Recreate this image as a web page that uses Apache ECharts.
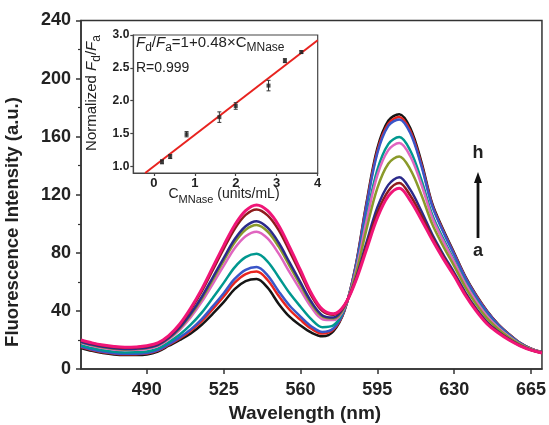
<!DOCTYPE html>
<html>
<head>
<meta charset="utf-8">
<script src="https://cdn.jsdelivr.net/npm/echarts@6/dist/echarts.min.js"></script>
<style>
html,body{margin:0;padding:0;background:#fff;}
#chart{width:549px;height:425px;}
</style>
</head>
<body>
<div id="chart"></div>
<script>
// ---- data ----
var wavelengths = [460,465,470,475,480,485,490,495,500,505,510,515,520,525,530,535,540,545,550,555,560,565,570,575,580,585,590,595,600,605,610,615,620,625,630,635,640,645,650,655,660,665,670];
var curveBlack = [14.5,12.5,11,10,9.6,9.6,10,12,16,20,24.5,30.5,38,46,55,60.5,62,56,45,36,30,25,22.5,26,40,70,114,152,171,175.5,166,143,114,96,80,64,51,40,31,24,18,14,11.5];
var curveRed = [15.1,13.1,11.6,10.6,10.1,10.2,10.6,12.6,16.7,21.1,26.3,33,41.2,49.9,59.4,65.4,67.1,61.3,50.4,40.8,33.8,27.7,24.4,27.2,40.3,69.6,112.7,150.1,168.9,173.5,164,141.4,113,95.2,79.4,63.5,50.6,39.6,30.8,23.8,17.9,14,11.5];
var curveBlue = [15.4,13.4,11.9,10.9,10.5,10.5,11,13,17.1,21.8,27.3,34.4,43.1,52.2,62,68.3,70.2,64.5,53.6,43.7,36.1,29.3,25.5,27.9,40.5,69.3,111.8,148.6,167.4,171.9,162.5,140.2,112.3,94.6,78.9,63.1,50.2,39.4,30.6,23.7,17.9,13.9,11.5];
var curveTeal = [16.4,14.4,12.9,11.9,11.4,11.5,12,14,18.4,23.7,30.5,38.8,48.9,59.3,70,77,79.3,74,63.4,52.3,42.9,34.2,28.8,30.1,41.3,66.9,104.1,137.1,154.9,159.7,150.5,130.6,106.3,89.8,75,60,47.6,37.2,29.1,22.8,17.4,13.7,11.3];
var curveOrchid = [18,16,14.5,13.5,13.1,13.2,13.8,15.8,20.5,27,35.7,46.2,58.5,71,83.2,91.5,94.6,89.9,79.6,66.7,54.3,42.3,34.3,33.7,42.1,66.1,101.5,133.3,150.7,155.6,146.5,127.4,104.3,88.2,73.8,58.9,46.7,36.5,28.7,22.4,17.2,13.6,11.3];
var curveOlive = [18.5,16.5,15,14,13.5,13.7,14.4,16.4,21.1,28,37.3,48.4,61.4,74.5,87.1,95.9,99.2,94.7,84.4,71,57.7,44.7,36,34.8,42.6,64.3,95.8,124.6,141.4,146.4,137.5,120.2,99.8,84.6,70.9,56.6,44.7,34.9,27.6,21.7,16.9,13.4,11.2];
var curveNavy = [18.8,16.8,15.3,14.3,13.8,14,14.7,16.7,21.5,28.6,38.2,49.6,63,76.4,89.3,98.3,101.8,97.3,87.1,73.4,59.6,46.1,36.9,35.4,43.3,61.5,86.8,111.2,126.8,132.1,123.5,109,92.8,79,66.4,53,41.6,32.3,25.9,20.6,16.3,13.2,11.1];
var curveDarkRed = [19.7,17.7,16.2,15.2,14.7,14.9,15.6,17.6,22.6,30.3,41,53.5,68.1,82.7,96.4,106.1,109.9,105.8,95.8,81.1,65.7,50.4,39.9,37.3,43.7,60.7,84.2,107.4,122.6,128.1,119.5,105.8,90.8,77.4,65.1,51.9,40.8,31.6,25.4,20.3,16.1,13.1,11];
var curvePink = [20,18,16.5,15.5,15,15.2,16,18,23,31,42,55,70,85,99,109,113,109,99,84,68,52,41,38,44,60,82,104,119,124.5,116,103,89,76,64,51,40,31,25,20,16,13,11];

var xTicks = [490,525,560,595,630,665];

var insetConc = [0.2,0.4,0.8,1.6,2.0,2.8,3.2,3.6];
var insetRatio = [1.07,1.15,1.49,1.75,1.92,2.23,2.61,2.74];
var insetErr = [0.03,0.03,0.04,0.08,0.05,0.08,0.03,0.02];
var fitConc = [-0.21,4];
var fitRatio = [0.9,2.92];
var insetXTicks = [0,1,2,3,4];
var insetYTicks = [1.0,1.5,2.0,2.5,3.0];

// ---- build ----
var curves = [
  {d: curveBlack, c: '#151515'},
  {d: curveRed, c: '#e8251f'},
  {d: curveBlue, c: '#3a55c8'},
  {d: curveTeal, c: '#00988f'},
  {d: curveOrchid, c: '#e065c0'},
  {d: curveOlive, c: '#8a9a2a'},
  {d: curveNavy, c: '#2b2a8a'},
  {d: curveDarkRed, c: '#8e1c1c'},
  {d: curvePink, c: '#f01577'}
];
var FONT = 'Liberation Sans, Arial, Helvetica, sans-serif';

var series = curves.map(function (cv, i) {
  return {
    type: 'line', xAxisIndex: 0, yAxisIndex: 0,
    data: wavelengths.map(function (w, k) { return [w, cv.d[k]]; }),
    smooth: 0.35, showSymbol: false, symbol: 'none',
    lineStyle: {color: cv.c, width: i === 8 ? 3 : 2.5},
    z: 2 + i, animation: false
  };
});

series.push({
  type: 'line', xAxisIndex: 1, yAxisIndex: 1,
  data: fitConc.map(function (x, k) { return [x, fitRatio[k]]; }),
  showSymbol: false, symbol: 'none',
  lineStyle: {color: '#e8231f', width: 2}, z: 20, animation: false
});
series.push({
  type: 'custom', xAxisIndex: 1, yAxisIndex: 1,
  data: insetConc.map(function (x, k) { return [x, insetRatio[k], insetErr[k]]; }),
  renderItem: function (params, api) {
    var x = api.value(0), y = api.value(1), e = api.value(2);
    var t = api.coord([x, y + e]), b = api.coord([x, y - e]);
    var st = {stroke: '#333', lineWidth: 1};
    return {type: 'group', children: [
      {type: 'line', shape: {x1: t[0], y1: t[1], x2: b[0], y2: b[1]}, style: st},
      {type: 'line', shape: {x1: t[0] - 2, y1: t[1], x2: t[0] + 2, y2: t[1]}, style: st},
      {type: 'line', shape: {x1: b[0] - 2, y1: b[1], x2: b[0] + 2, y2: b[1]}, style: st}
    ]};
  }, z: 21, animation: false
});
series.push({
  type: 'scatter', xAxisIndex: 1, yAxisIndex: 1,
  data: insetConc.map(function (x, k) { return [x, insetRatio[k]]; }),
  symbol: 'rect', symbolSize: 4, itemStyle: {color: '#222'}, z: 22, animation: false
});

var chart = echarts.init(document.getElementById('chart'), null, {renderer: 'canvas'});
chart.setOption({
  animation: false,
  backgroundColor: '#fff',
  grid: [
    {left: 81, right: 5.7, top: 20.5, bottom: 56, show: true, borderColor: '#333', borderWidth: 1.5, containLabel: false},
    {left: 133.3, right: 231.3, top: 35, bottom: 252, show: true, borderColor: '#444', borderWidth: 1.2, backgroundColor: '#fff', containLabel: false}
  ],
  xAxis: [
    {type: 'value', gridIndex: 0, min: 460, max: 670,
     axisLine: {show: true, onZero: false, lineStyle: {color: '#333', width: 1.5}},
     axisTick: {show: true, inside: false, length: 5, customValues: xTicks, lineStyle: {color: '#333', width: 1.5}},
     axisLabel: {customValues: xTicks, fontSize: 18, fontWeight: 'bold', color: '#222', margin: 12, fontFamily: FONT},
     splitLine: {show: false}},
    {type: 'value', gridIndex: 1, min: -0.5, max: 4,
     axisLine: {show: true, onZero: false, lineStyle: {color: '#444', width: 1.2}},
     axisTick: {show: true, length: 3, customValues: insetXTicks, lineStyle: {color: '#444', width: 1.2}},
     axisLabel: {customValues: insetXTicks, fontSize: 13, fontWeight: 'bold', color: '#222', margin: 4, fontFamily: FONT},
     splitLine: {show: false}}
  ],
  yAxis: [
    {type: 'value', gridIndex: 0, min: 0, max: 240, interval: 40,
     axisLine: {show: true, onZero: false, lineStyle: {color: '#333', width: 1.5}},
     axisTick: {show: true, length: 5, lineStyle: {color: '#333', width: 1.5}},
     minorTick: {show: true, splitNumber: 2, length: 3, lineStyle: {color: '#333', width: 1.2}},
     axisLabel: {fontSize: 18, fontWeight: 'bold', color: '#222', margin: 10, fontFamily: FONT},
     splitLine: {show: false}},
    {type: 'value', gridIndex: 1, min: 0.9, max: 3.0,
     axisLine: {show: true, onZero: false, lineStyle: {color: '#444', width: 1.2}},
     axisTick: {show: true, length: 3, customValues: insetYTicks, lineStyle: {color: '#444', width: 1.2}},
     axisLabel: {customValues: insetYTicks, fontSize: 12, fontWeight: 'bold', color: '#222', margin: 4, fontFamily: FONT,
       formatter: function (v) { return Number(v).toFixed(1); }},
     splitLine: {show: false}}
  ],
  series: series,
  graphic: [
    {type: 'text', x: 13, y: 222, rotation: Math.PI / 2, z: 50,
     style: {text: 'Fluorescence Intensity (a.u.)', font: 'bold 18.5px ' + FONT, fill: '#222', align: 'center', verticalAlign: 'middle'}},
    {type: 'text', x: 305, y: 414, z: 50,
     style: {text: 'Wavelength (nm)', font: 'bold 19px ' + FONT, fill: '#222', align: 'center', verticalAlign: 'middle'}},
    {type: 'text', x: 478, y: 153, z: 50,
     style: {text: 'h', font: 'bold 18px ' + FONT, fill: '#222', align: 'center', verticalAlign: 'middle'}},
    {type: 'text', x: 478, y: 251, z: 50,
     style: {text: 'a', font: 'bold 18px ' + FONT, fill: '#222', align: 'center', verticalAlign: 'middle'}},
    {type: 'line', z: 50, shape: {x1: 478, y1: 238, x2: 478, y2: 180}, style: {stroke: '#111', lineWidth: 2.8}},
    {type: 'polygon', z: 50, shape: {points: [[478, 172], [474, 183], [482, 183]]}, style: {fill: '#111'}},
    {type: 'text', x: 136, y: 43, z: 50,
     style: {
       text: '{i|F}{s|d}{n|/}{i|F}{s|a}{n|=1+0.48×C}{s|MNase}',
       align: 'left', verticalAlign: 'middle',
       rich: {
         i: {fontFamily: FONT, fontSize: 15, fontStyle: 'italic', fill: '#222', lineHeight: 22, verticalAlign: 'middle'},
         n: {fontFamily: FONT, fontSize: 15, fill: '#222', lineHeight: 22, verticalAlign: 'middle'},
         s: {fontFamily: FONT, fontSize: 12, fill: '#222', lineHeight: 12, verticalAlign: 'bottom'}
       }
     }},
    {type: 'text', x: 136, y: 68, z: 50,
     style: {text: 'R=0.999', font: '14px ' + FONT, fill: '#222', align: 'left', verticalAlign: 'middle'}},
    {type: 'text', x: 224, y: 194, z: 50,
     style: {
       text: '{n|C}{s|MNase}{n| (units/mL)}',
       align: 'center', verticalAlign: 'middle',
       rich: {
         n: {fontFamily: FONT, fontSize: 14, fill: '#222', lineHeight: 22, verticalAlign: 'middle'},
         s: {fontFamily: FONT, fontSize: 11, fill: '#222', lineHeight: 11, verticalAlign: 'bottom'}
       }
     }},
    {type: 'text', x: 92, y: 93, rotation: Math.PI / 2, z: 50,
     style: {
       text: '{n|Normalized }{i|F}{s|d}{n|/}{i|F}{s|a}',
       align: 'center', verticalAlign: 'middle',
       rich: {
         n: {fontFamily: FONT, fontSize: 15, fill: '#222', lineHeight: 22, verticalAlign: 'middle'},
         i: {fontFamily: FONT, fontSize: 15, fontStyle: 'italic', fill: '#222', lineHeight: 22, verticalAlign: 'middle'},
         s: {fontFamily: FONT, fontSize: 12, fill: '#222', lineHeight: 12, verticalAlign: 'bottom'}
       }
     }}
  ]
});
</script>
</body>
</html>
